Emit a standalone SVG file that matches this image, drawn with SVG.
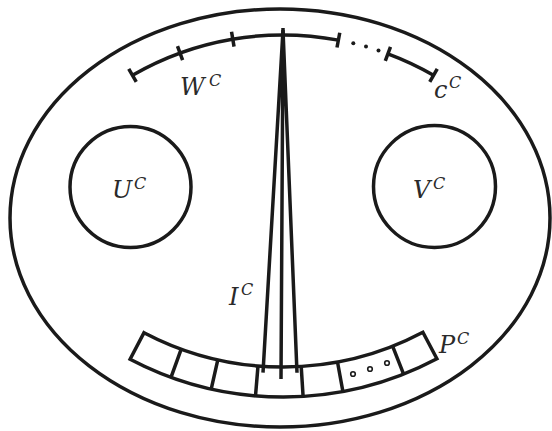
<svg xmlns="http://www.w3.org/2000/svg" width="552" height="431" viewBox="0 0 552 431">
<style>
.s{fill:none;stroke:#1a1a1a;stroke-width:3.5;stroke-linecap:butt}
.t{font-family:"DejaVu Serif","Liberation Serif",serif;font-style:italic;font-size:24px;fill:#2a2a2a}
.sup{font-size:16px}
</style>
<rect width="552" height="431" fill="#fff"/>
<g id="outer"><ellipse class="s" cx="280" cy="218" rx="270" ry="209"/></g>
<g id="U"><circle class="s" cx="130.5" cy="187" r="60.5"/>
<text class="t" x="112" y="198">U<tspan class="sup" x="134" y="189">C</tspan></text></g>
<g id="V"><circle class="s" cx="434.5" cy="186.5" r="61"/>
<text class="t" x="413" y="198">V<tspan class="sup" x="433" y="189">C</tspan></text></g>
<g id="W">
<path class="s" d="M132.5,75.3 A301,301 0 0 1 338.4,40.1 M387.9,53.9 A301,301 0 0 1 433.5,75.3"/>
<path class="s" d="M136.25,81.8 L128.75,68.8 M182.6,60.2 L177.5,46.1 M234.05,46.6 L231.54,31.8 M337,47.5 L339.76,32.7 M385.3,60.9 L390.5,46.8 M429.75,81.8 L437.25,68.8 M283,28 L283,42"/>
<circle cx="353.3" cy="43.3" r="2" fill="#1a1a1a"/>
<circle cx="366" cy="46.6" r="2" fill="#1a1a1a"/>
<circle cx="378.5" cy="50.6" r="2" fill="#1a1a1a"/>
<text class="t" x="180" y="95">W<tspan class="sup" x="209" y="86">C</tspan></text>
<text class="t" x="434" y="98">c<tspan class="sup" x="449" y="88">C</tspan></text>
</g>
<g id="P">
<path class="s" d="M144,332.7 A299,299 0 0 0 422.9,332.3 L436.9,358.8 A329,329 0 0 1 130.1,359.3 Z"/>
<path class="s" d="M181.2,349.1 L171,377.4 M217.8,359.8 L211.2,389.1 M258,366 L255.5,395.8 M301.2,366.4 L303.1,396.4 M337.5,362 L342.9,391.5 M392.6,346.2 L403.6,374.1"/>
<g fill="none" stroke="#1a1a1a" stroke-width="1.6">
<circle cx="353" cy="374" r="2.3"/><circle cx="370" cy="369" r="2.3"/><circle cx="387" cy="363" r="2.3"/>
</g>
<text class="t" x="439" y="353">P<tspan class="sup" x="457" y="344">C</tspan></text>
</g>
<g id="connectors">
<path class="s" d="M283,30 L263,372.7 M283,30 L281,379 M283,30 L297,372.7"/>
<text class="t" x="229" y="305">I<tspan class="sup" x="241" y="295">C</tspan></text>
</g>
</svg>
